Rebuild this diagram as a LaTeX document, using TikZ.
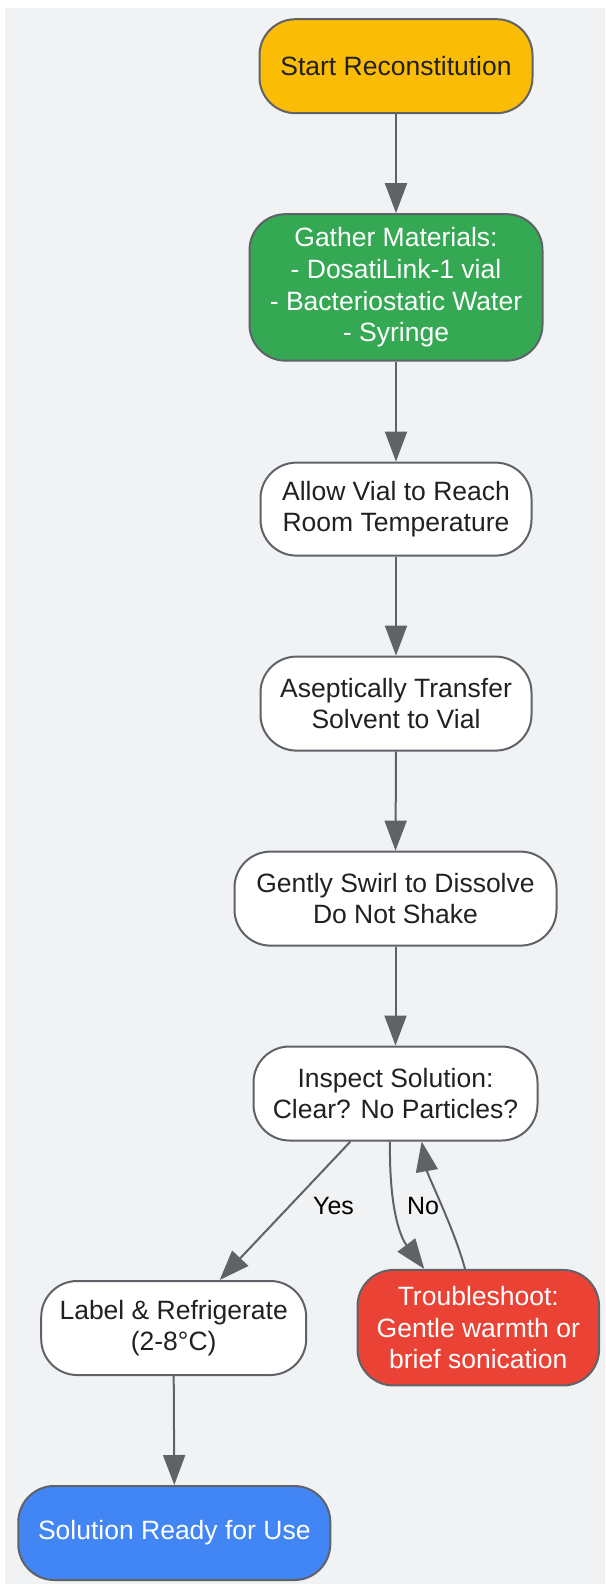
\documentclass[tikz,border=0pt]{standalone}
\usepackage{fontspec}
\setmainfont{Liberation Sans}
\usetikzlibrary{arrows.meta}
\definecolor{edgec}{HTML}{5F6368}
\definecolor{bgc}{HTML}{F1F2F4}
\definecolor{txtc}{HTML}{202124}
\definecolor{yel}{HTML}{FBBC05}
\definecolor{grn}{HTML}{34A853}
\definecolor{redc}{HTML}{EA4335}
\definecolor{blu}{HTML}{4285F4}
\begin{document}
\begin{tikzpicture}[x=1pt,y=-1pt,
  box/.style={draw=edgec, line width=2pt, rounded corners=36pt, align=center,
    font=\fontsize{26.5}{31.6}\selectfont, inner sep=0pt, text=txtc, fill=white},
  conn/.style={draw=edgec, line width=2pt, -{Triangle[length=30pt,width=22pt]}},
  lbl/.style={font=\fontsize{25}{30}\selectfont, text=black}]
\useasboundingbox (0,0) rectangle (605,1584);
\fill[white] (0,0) rectangle (605,1584);
\fill[bgc] (5,8) rectangle (605,1584);

\node[box, fill=yel, minimum width=273pt, minimum height=94pt] (start) at (396,66.2) {Start Reconstitution};
\node[box, fill=grn, text=white, minimum width=293pt, minimum height=146.5pt] (gather) at (396,287.4)
  {Gather Materials:\\- DosatiLink-1 vial\\- Bacteriostatic Water\\- Syringe};
\node[box, minimum width=271pt, minimum height=93pt] (allow) at (396,509.1) {Allow Vial to Reach\\Room Temperature};
\node[box, minimum width=271pt, minimum height=94pt] (asept) at (396,703.6) {Aseptically Transfer\\Solvent to Vial};
\node[box, minimum width=322pt, minimum height=94pt] (gently) at (395.5,898.6) {Gently Swirl to Dissolve\\Do Not Shake};
\node[box, minimum width=284pt, minimum height=94pt] (insp) at (395.5,1093.5) {Inspect Solution:\\Clear? No Particles?};
\node[box, minimum width=265pt, minimum height=94pt] (lab) at (173.7,1328) {Label \& Refrigerate\\(2-8°C)};
\node[box, fill=redc, text=white, minimum width=241.5pt, minimum height=115.5pt] (tr) at (478.3,1327.7)
  {Troubleshoot:\\Gentle warmth or\\brief sonication};
\node[box, fill=blu, text=white, minimum width=312pt, minimum height=94pt] (sol) at (174.3,1533) {\raisebox{-3pt}{Solution Ready for Use}};

\draw[conn] (start.south) -- (gather.north);
\draw[conn] (gather.south) -- (allow.north);
\draw[conn] (allow.south) -- (asept.north);
\draw[conn] (asept.south) -- (gently.north);
\draw[conn] (gently.south) -- (insp.north);
\draw[conn] ([xshift=-45pt]insp.south) -- ([xshift=46pt]lab.north);
\node[lbl] (yeslab) at (333.5,1206) {Yes};
\draw[conn] ([xshift=-5.5pt]insp.south) .. controls +(-1,67) and +(-24,-32) .. ([xshift=-54pt]tr.north);
\node[lbl] (nolab) at (423,1206) {No};
\draw[conn] ([xshift=-13.3pt]tr.north) .. controls +(-10,-38) and +(6,34) .. ([xshift=26.2pt]insp.south);
\draw[conn] (lab.south) -- (sol.north);
\end{tikzpicture}
\end{document}
